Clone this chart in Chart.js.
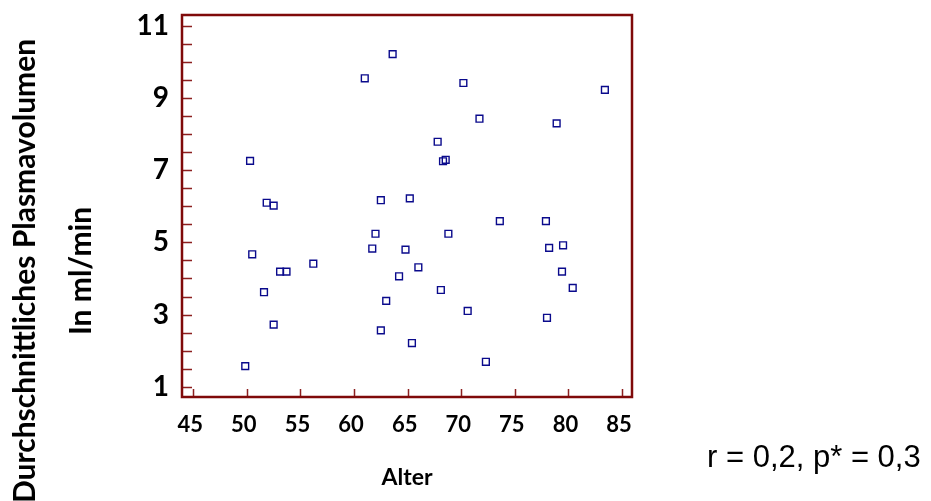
<!DOCTYPE html>
<html>
<head>
<meta charset="utf-8">
<script src="https://cdn.jsdelivr.net/npm/chart.js@4.4.1/dist/chart.umd.min.js"></script>
<style>
  html, body { margin: 0; padding: 0; background: #fff; }
  #wrap { width: 931px; height: 501px; position: relative; }
</style>
</head>
<body>
<div id="wrap"><canvas id="plasmaChart"></canvas></div>
<script>
// Alter (x) und durchschnittliches Plasmavolumen in ml/min (y)
const alter = [61.0, 50.3, 51.85, 52.5, 62.5, 63.6, 70.2, 83.4, 71.7, 78.9,
               67.8, 68.3, 68.55, 65.2, 50.5, 62.0, 61.7, 56.2, 53.1, 53.7,
               51.6, 63.0, 52.5, 62.5, 49.85, 73.6, 77.9, 68.8, 78.2, 79.5,
               64.8, 66.0, 64.2, 79.4, 80.4, 68.1, 70.6, 78.0, 65.4, 72.3];
const plasmavolumen = [9.55, 7.26, 6.10, 6.02, 6.17, 10.22, 9.42, 9.23, 8.43, 8.30,
                       7.79, 7.25, 7.29, 6.22, 4.67, 5.24, 4.83, 4.41, 4.19, 4.19,
                       3.62, 3.38, 2.72, 2.56, 1.57, 5.59, 5.59, 5.24, 4.85, 4.92,
                       4.80, 4.31, 4.06, 4.19, 3.74, 3.68, 3.10, 2.91, 2.21, 1.69];

const xTickValues = [45, 50, 55, 60, 65, 70, 75, 80, 85];
const yTickValues = [1, 1.5, 2, 2.5, 3, 3.5, 4, 4.5, 5, 5.5, 6, 6.5, 7, 7.5, 8, 8.5, 9, 9.5, 10, 10.5, 11];
const yTickLabels = [1, 3, 5, 7, 9, 11];

const yTitleLines = ['Durchschnittliches Plasmavolumen', 'In ml/min'];
const xTitle = 'Alter';
const statText = 'r = 0,2, p* = 0,3';

const frameColor = '#7f0a0a';
const tickColor = '#8c1f1f';
const pointColor = '#0a0a8c';

// frame, inward tick marks and the titles
const framePlugin = {
    id: 'framePlugin',
    afterDraw(chart) {
        const ctx = chart.ctx;
        const area = chart.chartArea;
        const xs = chart.scales.x;
        const ys = chart.scales.y;
        ctx.save();

        // tick marks pointing into the plot
        ctx.strokeStyle = tickColor;
        ctx.lineWidth = 1.5;
        ctx.beginPath();
        ys.ticks.forEach(t => {
            const py = Math.round(ys.getPixelForValue(t.value)) + 0.5;
            ctx.moveTo(area.left, py);
            ctx.lineTo(area.left + 10, py);
        });
        xs.ticks.forEach(t => {
            const px = Math.round(xs.getPixelForValue(t.value)) + 0.5;
            ctx.moveTo(px, area.bottom);
            ctx.lineTo(px, area.bottom - 8);
        });
        ctx.stroke();

        // frame
        ctx.strokeStyle = frameColor;
        ctx.lineWidth = 2.5;
        ctx.strokeRect(area.left, area.top, area.right - area.left, area.bottom - area.top);

        // titles
        ctx.fillStyle = '#000';
        ctx.textAlign = 'center';
        ctx.textBaseline = 'alphabetic';
        ctx.font = 'bold 30px Lato';
        ctx.save();
        ctx.translate(35, 271);
        ctx.rotate(-Math.PI / 2);
        ctx.fillText(yTitleLines[0], 0, 0);
        ctx.restore();
        ctx.save();
        ctx.translate(91, 271);
        ctx.rotate(-Math.PI / 2);
        ctx.fillText(yTitleLines[1], 0, 0);
        ctx.restore();

        ctx.font = 'bold 23px Lato';
        ctx.fillText(xTitle, (area.left + area.right) / 2, 485);

        ctx.textAlign = 'left';
        ctx.font = '31px "Liberation Sans"';
        ctx.fillText(statText, 707, 467);
        ctx.restore();
    }
};

new Chart(document.getElementById('plasmaChart'), {
    type: 'scatter',
    data: {
        datasets: [{
            label: 'Plasmavolumen',
            data: alter.map((a, i) => ({ x: a, y: plasmavolumen[i] })),
            pointStyle: 'rect',
            pointRadius: 4.8,
            pointBorderWidth: 1.4,
            pointBorderColor: pointColor,
            pointBackgroundColor: 'rgba(0,0,0,0)'
        }]
    },
    options: {
        responsive: true,
        maintainAspectRatio: false,
        animation: false,
        layout: { padding: { top: 15, right: 299, left: 0, bottom: 0 } },
        plugins: {
            legend: { display: false },
            tooltip: { enabled: false }
        },
        scales: {
            x: {
                type: 'linear',
                min: 43.95,
                max: 85.93,
                afterFit: s => { s.height = 104; s.paddingLeft = 0; s.paddingRight = 0; },
                afterBuildTicks: s => { s.ticks = xTickValues.map(v => ({ value: v })); },
                grid: { display: false, drawTicks: false },
                border: { display: false },
                ticks: {
                    autoSkip: false,
                    maxRotation: 0,
                    padding: 15,
                    labelOffset: -3,
                    color: '#000',
                    font: { family: 'Lato', weight: 'bold', size: 22 }
                }
            },
            y: {
                type: 'linear',
                min: 0.714,
                max: 11.305,
                afterFit: s => { s.width = 182; s.paddingTop = 0; s.paddingBottom = 0; },
                afterBuildTicks: s => { s.ticks = yTickValues.map(v => ({ value: v })); },
                grid: { display: false, drawTicks: false },
                border: { display: false },
                ticks: {
                    autoSkip: false,
                    padding: 13,
                    color: '#000',
                    font: { family: 'Lato', weight: 'bold', size: 28 },
                    callback: v => yTickLabels.includes(v) ? String(v) : ''
                }
            }
        }
    },
    plugins: [framePlugin]
});
</script>
</body>
</html>
